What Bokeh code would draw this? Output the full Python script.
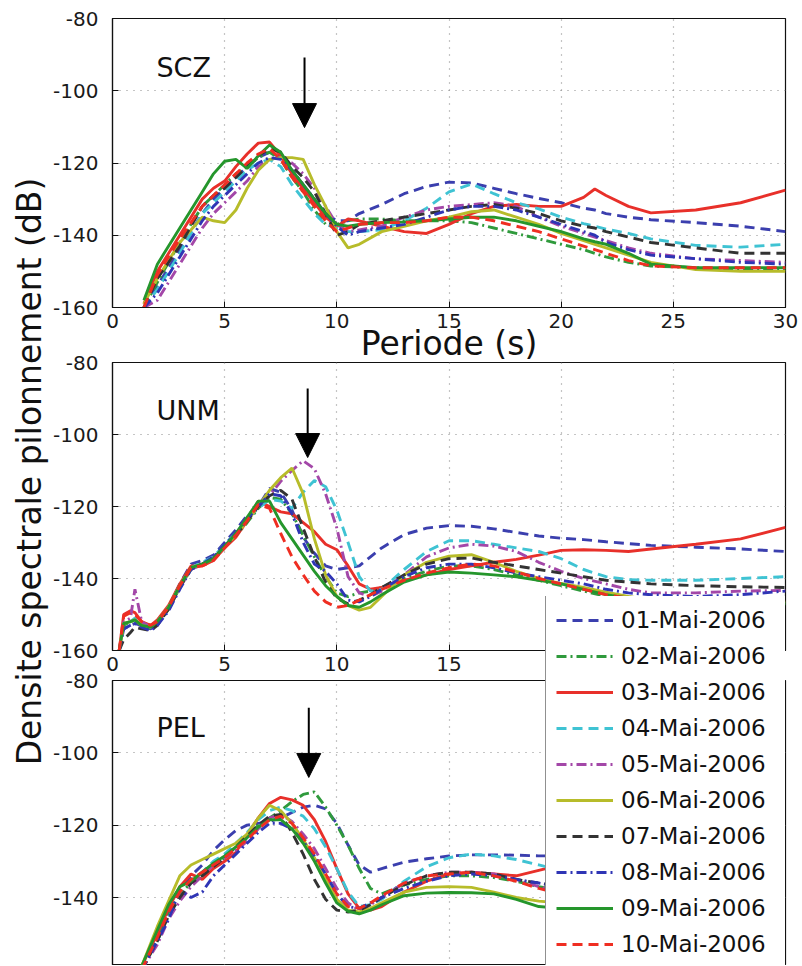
import math
from bokeh.plotting import figure
from bokeh.models import (Legend, LegendItem, Label, Arrow, NormalHead,
                          FixedTicker, Range1d, Grid)
from bokeh.layouts import column
from bokeh.embed import file_html
from bokeh.resources import INLINE

# ---------------- data ----------------
DATES = ["01-Mai-2006", "02-Mai-2006", "03-Mai-2006", "04-Mai-2006", "05-Mai-2006",
         "06-Mai-2006", "07-Mai-2006", "08-Mai-2006", "09-Mai-2006", "10-Mai-2006"]
STATIONS = ["SCZ", "UNM", "PEL"]
X_TICKS = [0, 5, 10, 15, 20, 25, 30]
X_TICKS_MID = [0, 5, 10, 15]          # the others are hidden behind the legend
Y_TICKS = [-160, -140, -120, -100, -80]
Y_TICK_LABELS = ["-160", "-140", "-120", "-100", "-80"]
X_TITLE = "Periode (s)"
Y_TITLE = "Densite spectrale pilonnement (dB)"

# SCZ (top panel)
X_TOP = [1.4, 2, 3, 4, 4.5, 5, 5.5, 6, 6.5, 7, 7.5, 8, 8.5, 9, 9.5, 10, 10.5, 11, 12, 13,
         14, 15, 16, 17, 18, 19, 20, 21, 21.5, 22, 23, 24, 26, 28, 30]
SCZ_01 = [-160, -154, -144, -134, -130, -127, -124, -121, -118.5, -117, -118.5, -122, -126, -130, -134, -136, -136, -134, -131.5, -128.5,
          -126.5, -125.3, -125.5, -127, -128.5, -129.8, -131, -132.5, -133, -134, -135, -135.7, -136.5, -137.5, -139]
SCZ_02 = [-160, -153, -142, -132, -129, -126, -123, -121, -118.5, -117, -119, -124, -128, -133, -137, -137, -136, -135.5, -135.5, -136,
          -136, -136, -136.5, -138, -139.5, -141, -142.5, -144, -145, -146, -147.5, -148.5, -149, -149.5, -149.5]
SCZ_03 = [-159, -150, -140, -130, -127, -125, -121, -117.5, -114.5, -114.2, -118, -123, -127, -131, -135, -137.5, -135.5, -136, -137.5, -139,
          -139.5, -137, -134, -132, -131.5, -132, -132, -129.5, -127.2, -129, -132, -133.8, -133, -131, -127.5]
SCZ_04 = [-160, -155, -145, -134, -131, -128, -125, -122, -120, -119, -121, -126, -130, -134, -137, -138, -139, -139, -138.5, -136,
          -132.5, -128, -125.8, -128.5, -131, -132.7, -135, -136.8, -137.5, -138.3, -139.5, -141, -142.8, -143.3, -142.5]
SCZ_05 = [-160, -158, -148, -138, -134, -131, -128, -125, -121, -119, -118.5, -120, -123, -127, -132, -137, -139, -138.5, -137.5, -135,
          -133, -132, -131.5, -131, -132, -135, -137.5, -139.5, -140.5, -141.5, -143.5, -145, -146.5, -147, -147.5]
SCZ_06 = [-159, -152, -142, -135, -136, -136.5, -133, -127, -122, -119, -118.5, -118.5, -119, -126, -132, -139, -143.5, -142.5, -139, -137.5,
          -136, -135, -133.5, -133, -135, -137, -139.5, -141.5, -142.5, -143.5, -145.5, -147.5, -149.5, -150, -150]
SCZ_07 = [-160, -152, -143, -132, -129, -127, -124, -121, -118, -116, -117, -121, -124, -128, -134, -140, -139, -137, -136, -135,
          -134, -133, -132, -131.5, -132.5, -134, -136, -137.5, -138, -139, -140.5, -142, -143.5, -145, -145]
SCZ_08 = [-160, -156, -146, -136, -132, -129, -126, -123, -120, -118.5, -119, -122, -126, -130, -134, -137.5, -140, -139, -138, -137,
          -135, -133, -132, -132, -133, -135, -137, -139, -140, -142, -144, -145.5, -146.5, -147.5, -148]
SCZ_09 = [-158, -148, -138, -128, -123, -119.5, -119, -121.5, -118, -115, -117, -122, -126, -130, -134, -137, -137.5, -137, -136.5, -136.3,
          -136, -135.5, -135, -135, -136, -137.5, -139, -141, -141.8, -142.5, -145, -148, -149, -149, -149]
SCZ_10 = [-160, -151, -141, -132, -129, -126, -123, -120, -117.5, -116, -119, -124, -128, -132, -136, -139, -138, -137, -136.5, -136.5,
          -136, -135, -135, -136, -137.5, -139, -141, -143, -144, -145, -147, -148.5, -149, -149, -149]

# UNM (middle panel)
X_MID = [0.3, 0.5, 0.8, 1.0, 1.3, 1.7, 2, 2.5, 3, 3.5, 4, 4.5, 5, 5.5, 6,
         6.5, 7, 7.5, 8, 8.5, 9, 9.5, 10, 10.5, 11, 11.5, 12, 13, 14, 15, 16, 17, 18, 19, 20,
         21, 22, 23, 24, 26, 28, 30]
UNM_01 = [-160, -154, -153, -152.5, -153, -154, -152.5, -148, -141.5, -136, -135, -133.5, -130, -126.5, -122.5,
          -120, -115, -116, -121, -128.5, -133, -136.5, -137.5, -137, -136.5, -134, -131.5, -127.8, -126, -125.3, -125.5, -126.2, -127.2, -128.2, -128.8,
          -129.2, -129.8, -130.3, -130.8, -131.3, -131.8, -132.5]
UNM_02 = [-160, -153, -152, -151.5, -153, -154, -152.5, -148.5, -142.5, -137.5, -136, -134.5, -131.5, -128, -124.5,
          -120.5, -117.5, -118, -122, -128, -134, -139.5, -144, -145, -144, -143.5, -142.5, -140, -138, -136.5, -136.5, -137.5, -139, -140.5, -142,
          -143.5, -145, -146, -146.5, -147, -147, -147]
UNM_03 = [-160, -150, -149, -149.5, -152, -153, -151.5, -147.5, -141.5, -136.5, -136.5, -135, -131.5, -128.5, -124,
          -118.5, -120, -121.5, -122, -124.5, -127, -130.5, -132, -136.5, -141.5, -143, -142.5, -140.5, -139, -137.5, -136.5, -135.5, -134.7, -133.5, -132.2,
          -132, -132.2, -132.5, -131.8, -130.5, -129, -125.8]
UNM_04 = [-160, -153, -152, -151, -152.5, -153.5, -152, -148, -142, -137, -135.5, -134, -130.5, -127.5, -123.5,
          -120.5, -118, -118.5, -120.5, -116, -112.8, -114.5, -121, -130, -139.5, -143.5, -143, -137.5, -132.5, -129.5, -129.5, -130.5, -131.5, -132.5, -134.5,
          -137.5, -139.5, -140.3, -140.5, -140.5, -140, -139.5]
UNM_05 = [-160, -152, -151, -143, -152, -153.5, -152, -148.5, -142.5, -137.5, -136, -134.5, -131, -127.5, -123.5,
          -120, -117, -113, -110, -107.3, -109.5, -116.5, -126, -139.5, -144, -145, -143.5, -139, -134, -131.5, -130.5, -131, -132.5, -135.5, -138,
          -140, -141.5, -143, -144, -144, -143.5, -143.3]
UNM_06 = [-160, -152.5, -152, -151.5, -153, -153.5, -152, -148, -142, -137, -136, -134.5, -131, -128, -124,
          -120, -115.5, -112, -109.3, -116.5, -129, -139, -145, -147.5, -148.8, -148, -145, -139, -135.5, -133.8, -133.4, -135.5, -138, -140, -141.4,
          -142.5, -143.8, -145, -146, -146.5, -146.5, -146.5]
UNM_07 = [-160, -157, -155, -153.5, -154, -154.5, -153, -148.5, -142.5, -137, -136, -134.5, -131, -128, -124,
          -120, -117, -115.5, -118, -126, -134, -141, -145.5, -147, -146, -144.5, -142.5, -139, -136, -134.5, -134.3, -135.5, -136.5, -137.5, -138.5,
          -139.5, -140.5, -141, -141.5, -142, -142.3, -142.5]
UNM_08 = [-160, -154, -153, -152.5, -153.5, -154.5, -153, -149, -143, -137.5, -136, -134, -130.5, -127.5, -123.5,
          -120, -116.5, -117, -122, -130, -136, -138, -141.5, -146, -146.5, -145, -143, -139.5, -137, -136, -136, -137, -138.5, -139.5, -140.5,
          -141.5, -143, -144, -144.5, -145, -144.5, -143.5]
UNM_09 = [-160, -152.5, -152, -151.5, -153, -153.5, -152, -148, -142, -137, -136, -134.5, -131, -127.5, -123,
          -118.5, -118.5, -124.5, -129, -133.5, -138, -142, -145, -147.5, -148, -146.5, -144.5, -141, -139, -138.2, -138.5, -139, -139.5, -140.5, -141.5,
          -143, -144.5, -145.5, -146.5, -147, -147, -147]
UNM_10 = [-160, -150.5, -149.5, -150, -152, -153, -152, -148, -142, -137, -136.5, -135, -131.5, -128, -124,
          -119.5, -120.5, -127.5, -134, -139, -143.5, -146.5, -148, -147.5, -146, -144.5, -143, -140.5, -138.5, -137, -136, -136.5, -138.2, -140, -141.5,
          -143, -144.5, -145.5, -146.5, -147, -147, -147]

# PEL (bottom panel)
X_BOT = [1.3, 2, 2.5, 3, 3.5, 4, 4.5, 5, 5.5, 6, 6.5, 7, 7.5, 8, 8.5, 9, 9.5, 10, 10.5, 11,
         11.5, 12, 13, 14, 15, 16, 17, 18, 19, 20]
PEL_01 = [-160, -150, -143, -138, -134, -131, -127, -124, -121.5, -120, -119.5, -119, -118, -116.5, -115, -114.5, -115.5, -119.5, -125.5, -131,
          -133, -132, -130.2, -129.3, -128.5, -128.2, -128.2, -128.3, -128.5, -128.5]
PEL_02 = [-160, -151, -144, -139, -136, -133.5, -131, -129, -126, -123, -120, -118, -116, -113.5, -111.5, -110.8, -115, -120, -125.5, -132,
          -137.5, -139, -136.5, -135, -134, -134, -134.5, -135.5, -137, -138]
PEL_03 = [-159, -150, -143, -137, -133.5, -135, -132, -130, -127.5, -122.5, -118, -114, -112.3, -113, -114.5, -118.5, -124.5, -132, -139, -143,
          -143.5, -142.5, -138.5, -135.5, -133.5, -133, -133.5, -134, -132.5, -131]
PEL_04 = [-160, -152, -145, -140, -136, -133, -130, -128, -125, -122, -118.5, -116, -115, -116, -117.5, -121, -126, -132, -138.5, -142.5,
          -142, -140.5, -135.5, -131.5, -129, -128, -128.5, -129.5, -131, -132.5]
PEL_05 = [-160, -153, -146, -141, -137, -134, -131, -129, -127, -124.5, -121, -118, -117, -119, -122.5, -126.5, -132, -137.5, -141.5, -143.5,
          -142, -140, -136, -134, -133, -133, -133.5, -135, -137, -138.5]
PEL_06 = [-159, -148, -141, -134, -131, -129.5, -128, -126.5, -125, -122.5, -118, -114.5, -116, -119.5, -124, -129, -135, -140.5, -143.5, -144,
          -143, -141.5, -138.5, -137.2, -137, -137.2, -138.5, -140, -141, -141.5]
PEL_07 = [-160, -152, -145, -140, -136, -134, -131.5, -129, -126, -123, -120, -117.5, -117, -122, -128, -135, -140.5, -143.5, -144, -143.5,
          -142, -140, -136.5, -134, -133, -133, -133.5, -135, -136, -137]
PEL_08 = [-160, -152, -146, -138, -140, -138.5, -134, -131, -128, -125, -122, -119.5, -119.5, -121, -124.5, -128.5, -133.5, -139, -142.5, -143,
          -141.5, -140, -137.5, -135.5, -134, -133.5, -134, -135, -136, -137]
PEL_09 = [-159, -149, -142, -137, -135.5, -133, -130.5, -128.5, -126, -123.5, -120.5, -118.5, -118.5, -121, -125, -130, -136, -141.5, -143.8, -144.5,
          -143.5, -142, -139.5, -138.8, -138.6, -138.7, -139, -140.5, -142.5, -143]
PEL_10 = [-160, -151, -144, -138.5, -135, -133, -131, -129, -126.5, -124, -121, -118.5, -117.5, -119.5, -123.5, -128, -133.5, -139, -142.5, -143,
          -141.5, -139.5, -136, -134, -133.5, -133, -134, -135.5, -137.5, -139]

# arrows: (x, y_start, y_end) per panel
ARROWS = [(8.56, -90.8, -110.2), (8.7, -87.2, -106.4), (8.75, -87.5, -106.8)]

# ---------------- styles / layout ----------------
COLORS = ["#3b3fae", "#2f9a3c", "#e8302a", "#3fc3d3", "#a347a8",
          "#b7bc2a", "#333333", "#2f35b5", "#25962c", "#ef2e22"]
DASHES = ["10 6", "10 4 2 4", "solid", "10 6", "10 4 2 4",
          "solid", "10 6", "10 4 2 4", "solid", "10 6"]
LINE_W = 2.9
FONT = "DejaVu Sans"
W, H = 800, 965
FRAME_X0, FRAME_X1 = 112, 785
# (frame top px, frame height px, y range start)
PANELS = [(18, 289, -160), (362, 288, -160), (680, 285, -158.8)]
LABEL_POS = [(1.96, -93.6), (1.96, -93.3), (1.96, -93.0)]
LEGEND_LEFT, LEGEND_TOP = 545, 597
YTITLE_SPAN = (180, 762)


def base_fig(x_range, y_range, top, bottom, x_loc="below", y_loc="left"):
    p = figure(width=W, height=H, x_range=x_range, y_range=y_range,
               output_backend="svg", toolbar_location=None,
               x_axis_location=x_loc, y_axis_location=y_loc,
               min_border_left=FRAME_X0, min_border_right=W - FRAME_X1,
               min_border_top=top, min_border_bottom=H - bottom)
    p.background_fill_color = None
    p.border_fill_color = None
    for g in p.grid:
        g.visible = False
    return p


def make_panel(idx, xs, series, xticks):
    top, fh, ystart = PANELS[idx]
    show_x = idx < 2
    p = base_fig(Range1d(0, 30), Range1d(ystart, -80), top, top + fh,
                 x_loc="below" if show_x else None)
    p.outline_line_color = "#111111"
    p.outline_line_width = 1.2
    for dim, ticks in ((0, [5, 10, 15, 20, 25]), (1, [-140, -120, -100])):
        p.add_layout(Grid(dimension=dim, ticker=FixedTicker(ticks=ticks),
                          grid_line_color="#8a8a8a", grid_line_dash="1 6",
                          grid_line_width=1.2), "center")
    for ax in p.xaxis:
        ax.ticker = FixedTicker(ticks=xticks)
        ax.major_label_standoff = 6
    for ax in p.yaxis:
        ax.ticker = FixedTicker(ticks=Y_TICKS)
        ax.major_label_overrides = dict(zip(Y_TICKS, Y_TICK_LABELS))
        ax.major_label_standoff = 14
    for ax in p.axis:
        ax.major_tick_in = 6
        ax.major_tick_out = 0
        ax.minor_tick_line_color = None
        ax.axis_line_width = 1.2
        ax.axis_line_color = "#111111"
        ax.major_tick_line_color = "#111111"
        ax.major_label_text_font = FONT
        ax.major_label_text_font_size = "20px"
        ax.major_label_text_color = "#1a1a1a"

    for i, ys in enumerate(series):
        p.line(xs, ys, line_color=COLORS[i], line_width=LINE_W, line_dash=DASHES[i])

    lx, ly = LABEL_POS[idx]
    p.add_layout(Label(x=lx, y=ly, text=STATIONS[idx], text_font=FONT, text_font_size="27px",
                       text_color="#111111", text_baseline="alphabetic"))
    ax_, ay0, ay1 = ARROWS[idx]
    p.add_layout(Arrow(x_start=ax_, y_start=ay0, x_end=ax_, y_end=ay1, line_width=2,
                       line_color="black",
                       end=NormalHead(size=24, fill_color="black", line_color="black")))
    return p


PEL_SERIES = [PEL_01, PEL_02, PEL_03, PEL_04, PEL_05, PEL_06, PEL_07, PEL_08, PEL_09, PEL_10]
p1 = make_panel(0, X_TOP, [SCZ_01, SCZ_02, SCZ_03, SCZ_04, SCZ_05,
                           SCZ_06, SCZ_07, SCZ_08, SCZ_09, SCZ_10], X_TICKS)
p2 = make_panel(1, X_MID, [UNM_01, UNM_02, UNM_03, UNM_04, UNM_05,
                           UNM_06, UNM_07, UNM_08, UNM_09, UNM_10], X_TICKS_MID)
p3 = make_panel(2, X_BOT, PEL_SERIES, X_TICKS)

# x axis title (sits between top and middle panels)
p1.xaxis.axis_label = X_TITLE
p1.xaxis.axis_label_text_font = FONT
p1.xaxis.axis_label_text_font_size = "33px"
p1.xaxis.axis_label_text_font_style = "normal"
p1.xaxis.axis_label_text_color = "#111111"
p1.xaxis.axis_label_standoff = -7

# y axis title: overlay figure whose frame is centred on the title
pt = base_fig(Range1d(0, 1), Range1d(0, 1), YTITLE_SPAN[0], YTITLE_SPAN[1],
              x_loc=None, y_loc="left")
pt.outline_line_color = None
ya = pt.yaxis[0]
ya.ticker = FixedTicker(ticks=[])
ya.axis_line_color = None
ya.major_tick_line_color = None
ya.minor_tick_line_color = None
ya.major_label_standoff = 0
ya.axis_label = Y_TITLE
ya.axis_label_text_font = FONT
ya.axis_label_text_font_size = "33px"
ya.axis_label_text_font_style = "normal"
ya.axis_label_text_color = "#111111"
ya.axis_label_standoff = 64

# legend: overlay figure (frame = lower part of page), legend proxies kept off-range
top3, fh3, ystart3 = PANELS[2]
pl = base_fig(Range1d(-60, -30), Range1d(ystart3, -80), LEGEND_TOP - 1, top3 + fh3,
              x_loc=None, y_loc=None)
pl.outline_line_color = None
rs = [pl.line(X_BOT, ys, line_color=COLORS[i], line_width=LINE_W, line_dash=DASHES[i])
      for i, ys in enumerate(PEL_SERIES)]
leg_h = 2 * 10 + 10 * 28 + 9 * 8
legend = Legend(items=[LegendItem(label=d, renderers=[r]) for d, r in zip(DATES, rs)],
                location=(LEGEND_LEFT - FRAME_X0, (top3 + fh3) - (LEGEND_TOP + leg_h)),
                orientation="vertical",
                label_text_font=FONT, label_text_font_size="23px", label_text_color="#111111",
                glyph_width=57, glyph_height=28, label_height=28, label_width=155,
                label_standoff=8, spacing=8, padding=10,
                border_line_color="#222222", border_line_width=1.2,
                background_fill_color="white", background_fill_alpha=1.0)
pl.add_layout(legend, "center")

for fig in (p2, p3, pt, pl):
    fig.styles = {"margin-top": f"-{H}px"}

layout = column(p1, p2, p3, pt, pl)
open("out.html", "w").write(file_html(layout, INLINE))
